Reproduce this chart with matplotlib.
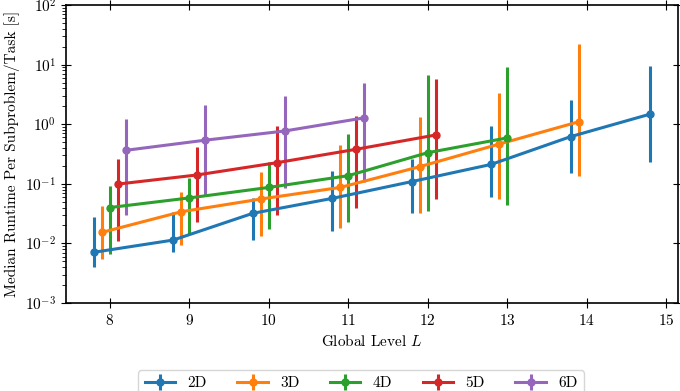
import matplotlib
matplotlib.use("Agg")
import matplotlib.pyplot as plt
import numpy as np

plt.rcParams["font.family"] = "serif"
plt.rcParams["font.serif"] = ["cmr10", "DejaVu Serif"]
plt.rcParams["mathtext.fontset"] = "cm"
plt.rcParams["axes.formatter.use_mathtext"] = True
plt.rcParams["font.size"] = 11

labels = ["2D", "3D", "4D", "5D", "6D"]
colors = ["#1f77b4", "#ff7f0e", "#2ca02c", "#d62728", "#9467bd"]

levels_2d = [7.8, 8.8, 9.8, 10.8, 11.8, 12.8, 13.8, 14.8]
med_2d = [0.0071, 0.0114, 0.032, 0.057, 0.109, 0.212, 0.62, 1.48]
lo_2d = [0.0041, 0.0073, 0.0114, 0.0163, 0.032, 0.061, 0.15, 0.235]
hi_2d = [0.0274, 0.034, 0.059, 0.164, 0.26, 0.94, 2.55, 9.5]

levels_3d = [7.9, 8.9, 9.9, 10.9, 11.9, 12.9, 13.9]
med_3d = [0.0153, 0.034, 0.0556, 0.087, 0.194, 0.465, 1.10]
lo_3d = [0.0055, 0.0094, 0.0133, 0.0179, 0.033, 0.0556, 0.135]
hi_3d = [0.043, 0.072, 0.156, 0.45, 1.34, 3.4, 22.0]

levels_4d = [8.0, 9.0, 10.0, 11.0, 12.0, 13.0]
med_4d = [0.040, 0.058, 0.087, 0.137, 0.333, 0.59]
lo_4d = [0.0066, 0.0142, 0.0173, 0.023, 0.0354, 0.044]
hi_4d = [0.092, 0.127, 0.23, 0.685, 6.7, 9.2]

levels_5d = [8.1, 9.1, 10.1, 11.1, 12.1]
med_5d = [0.099, 0.141, 0.226, 0.38, 0.66]
lo_5d = [0.0111, 0.0226, 0.030, 0.040, 0.0556]
hi_5d = [0.26, 0.42, 0.93, 1.39, 5.7]

levels_6d = [8.2, 9.2, 10.2, 11.2]
med_6d = [0.365, 0.54, 0.77, 1.28]
lo_6d = [0.030, 0.065, 0.086, 0.109]
hi_6d = [1.22, 2.1, 3.0, 4.9]

series = [
    (levels_2d, med_2d, lo_2d, hi_2d),
    (levels_3d, med_3d, lo_3d, hi_3d),
    (levels_4d, med_4d, lo_4d, hi_4d),
    (levels_5d, med_5d, lo_5d, hi_5d),
    (levels_6d, med_6d, lo_6d, hi_6d),
]

fig = plt.figure(figsize=(6.8, 3.91), dpi=100)
ax = fig.add_axes([0.097, 0.225, 0.9, 0.762])

for (x, m, lo, hi), lab, c in zip(series, labels, colors):
    m = np.array(m)
    yerr = [m - np.array(lo), np.array(hi) - m]
    ax.errorbar(x, m, yerr=yerr, color=c, label=lab, marker="o", markersize=5,
                linewidth=2.2, elinewidth=2.2, capsize=0)

ax.set_yscale("log")
ax.set_ylim(1e-3, 1e2)
ax.set_xticks(range(8, 16))
ax.tick_params(which="major", direction="inout", length=7, top=True, right=True)
ax.tick_params(which="minor", direction="out", length=3, right=False)
for s in ax.spines.values():
    s.set_linewidth(1.2)
ax.set_xlabel("Global Level $L$")
ax.set_ylabel("Median Runtime Per Subproblem/Task [s]")

fig.legend(loc="upper center", bbox_to_anchor=(0.531, 0.072), ncol=5, frameon=True)

fig.savefig("out.png", dpi=100)
